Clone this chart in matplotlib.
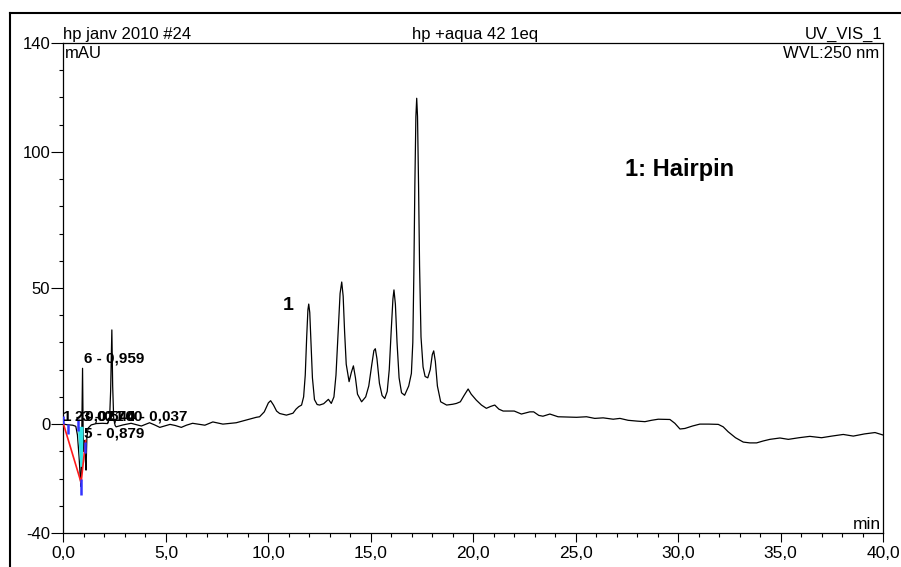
import matplotlib
matplotlib.use('Agg')
import matplotlib.pyplot as plt
from matplotlib.lines import Line2D
from matplotlib.ticker import FixedLocator, MultipleLocator

plt.rcParams['font.family'] = ['Liberation Sans', 'DejaVu Sans']

# chromatogram trace (min, mAU)
t = [0.0, 0.15, 0.3, 0.45, 0.6, 0.68, 0.76, 0.83, 0.86, 0.89, 0.93, 0.96, 0.99, 1.02, 1.06,
     1.1, 1.14, 1.2, 1.35, 1.6, 1.9, 2.15, 2.25, 2.3, 2.36, 2.4, 2.45, 2.52, 2.57, 2.9,
     3.3, 3.55, 3.8, 4.2, 4.45, 4.7, 5.2, 5.45, 5.75, 6.0, 6.3, 6.9, 7.29, 7.78, 8.43,
     8.92, 9.41, 9.57, 9.8, 10.0, 10.11, 10.25, 10.4, 10.55, 10.88, 11.2, 11.35, 11.48,
     11.62, 11.72, 11.8, 11.87, 11.93, 11.97, 12.02, 12.08, 12.15, 12.25, 12.38, 12.5,
     12.7, 12.93, 13.07, 13.2, 13.3, 13.4, 13.5, 13.58, 13.65, 13.72, 13.8, 13.94, 14.05,
     14.15, 14.25, 14.35, 14.55, 14.75, 14.9, 15.05, 15.15, 15.22, 15.3, 15.42, 15.55,
     15.68, 15.8, 15.9, 16.0, 16.08, 16.13, 16.2, 16.28, 16.38, 16.5, 16.65, 16.85, 16.98,
     17.05, 17.1, 17.15, 17.2, 17.24, 17.28, 17.33, 17.38, 17.45, 17.55, 17.65, 17.78,
     17.9, 18.0, 18.07, 18.15, 18.25, 18.41, 18.7, 19.0, 19.18, 19.37, 19.55, 19.75, 19.9,
     20.15, 20.4, 20.64, 20.85, 21.05, 21.25, 21.46, 22.0, 22.35, 22.76, 22.95, 23.2, 23.4,
     23.74, 24.14, 24.6, 25.04, 25.53, 25.93, 26.34, 26.83, 27.16, 27.56, 28.0, 28.38,
     28.7, 29.03, 29.6, 29.84, 30.09, 30.33, 30.7, 31.06, 31.5, 31.96, 32.2, 32.44, 32.8,
     33.18, 33.5, 33.83, 34.15, 34.48, 34.97, 35.38, 35.9, 36.43, 37.0, 37.5, 38.06,
     38.55, 39.1, 39.61, 40.0]
mau = [0.0, -0.2, -0.3, -0.4, -0.8, -4, -12, -21, -23, -5, 20.5, -4, -10, -6, -12,
       -16.9, -5, -1.5, -0.3, 0.2, 0.3, 0.2, 2, 12, 34.6, 14, 2, -0.5, -1.0, -0.3,
       0.3, -0.2, -0.7, 0.5, -0.3, -1.2, -0.1, -0.5, -1.2, -0.4, 0.3, -0.4, 0.8, 0.0, 0.5,
       1.5, 2.5, 2.7, 4.5, 7.8, 8.6, 7.0, 4.8, 3.9, 3.3, 4.0, 5.5, 6.4,
       7.0, 10, 18, 32, 42, 44.1, 41, 30, 17, 9, 7.2, 7.0,
       7.5, 9.1, 7.6, 10, 18, 33, 48, 52.2, 47, 34, 22, 15.6, 19,
       21.4, 17, 11, 8.2, 10, 14, 22, 27, 27.7, 24, 15, 10.5,
       9.4, 12, 20, 35, 46, 49.3, 44, 30, 17, 11.5, 10.6, 14, 18.6,
       30, 55, 88, 113, 119.7, 113, 88, 58, 32, 21, 17.5, 17.0,
       20, 25.5, 26.9, 23, 14, 8.2, 7.0, 7.3, 7.6, 8.2, 10.5, 12.9, 11,
       8.8, 7.0, 5.8, 6.5, 7.0, 5.5, 4.8, 4.8, 3.7, 4.5, 4.5, 3.2, 2.9,
       3.7, 2.7, 2.6, 2.5, 2.7, 2.1, 2.3, 1.8, 2.1, 1.4, 1.1, 0.9,
       1.4, 1.8, 1.7, 0.3, -1.8, -1.6, -0.7, 0.0, 0.0, -0.1, -1.0, -2.8, -5.0,
       -6.6, -6.9, -6.9, -6.2, -5.6, -5.1, -5.6, -5.0, -4.5, -5.0, -4.4, -3.8,
       -4.4, -3.6, -3.1, -4.0]

# integration marks at the injection peak
base_x = [0.0, 0.86, 1.08]
base_y = [0.0, -21.5, -6.0]
area_x = [0.70, 0.98, 0.94, 0.82]
area_y = [-1.0, -1.0, -15.7, -15.7]
mark_x = [0.0, 0.22, 0.70, 0.83, 1.07]
mark_lo = [0.0, -3.5, -2.5, -26.0, -10.7]
mark_hi = [3.0, 0.0, 2.0, -20.0, -6.5]

# peak labels
peak_lbl = ['1 - 0,021', '2 - 0,540', '3 - 0,700', '4 - 0,037', '6 - 0,959', '5 - 0,879']
peak_lx = [0.0, 0.54, 0.9, 3.1, 0.98, 0.98]
peak_ly = [2.9, 2.9, 2.9, 2.9, 24.1, -3.4]

xticks = [0, 5, 10, 15, 20, 25, 30, 35, 40]
xlabels = ['0,0', '5,0', '10,0', '15,0', '20,0', '25,0', '30,0', '35,0', '40,0']
yticks = [-40, 0, 50, 100, 140]
ylabels = ['-40', '0', '50', '100', '140']

fig = plt.figure(figsize=(9.01, 5.67), dpi=100)
ax = fig.add_axes([63.5 / 901, 1 - 533 / 567, 819.5 / 901, 490 / 567])

ax.plot(t, mau, color='black', lw=0.9, zorder=3)
ax.fill(area_x, area_y, color='#33e6e6', zorder=4, lw=0)
ax.plot(base_x, base_y, color='#ff1a1a', lw=1.2, zorder=5)
ax.vlines(mark_x, mark_lo, mark_hi, color='#3333ff', lw=1.8, zorder=6)

for s, x, y in zip(peak_lbl, peak_lx, peak_ly):
    ax.text(x, y, s, fontsize=11, fontweight='bold', ha='left', va='center', zorder=7)

ax.text(10.96, 43.5, '1', fontsize=14, fontweight='bold', ha='center', va='center')
ax.text(27.4, 93.4, '1: Hairpin', fontsize=17, fontweight='bold', ha='left', va='center')

ax.set_xlim(0, 40)
ax.set_ylim(-40, 140)
ax.xaxis.set_major_locator(FixedLocator(xticks))
ax.set_xticklabels(xlabels)
ax.xaxis.set_minor_locator(MultipleLocator(1))
ax.yaxis.set_major_locator(FixedLocator(yticks))
ax.set_yticklabels(ylabels)
ax.yaxis.set_minor_locator(MultipleLocator(10))
ax.tick_params(axis='x', which='major', length=6.7, width=0.8, labelsize=12.5, pad=3)
ax.tick_params(axis='y', which='major', length=8.5, width=0.8, labelsize=12, pad=1)
ax.tick_params(which='minor', length=3, width=0.8)
for sp in ax.spines.values():
    sp.set_linewidth(0.9)

ax.text(0.002, 0.994, 'mAU', transform=ax.transAxes, fontsize=12, ha='left', va='top')
ax.text(0.995, 0.994, 'WVL:250 nm', transform=ax.transAxes, fontsize=12, ha='right', va='top')
ax.text(0.998, 0.008, 'min', transform=ax.transAxes, fontsize=12.5, ha='right', va='baseline')

fig.text(63 / 901, 0.932, 'hp janv 2010 #24', fontsize=12, ha='left', va='baseline')
fig.text(475 / 901, 0.932, 'hp +aqua 42 1eq', fontsize=12, ha='center', va='baseline')
fig.text(882 / 901, 0.932, 'UV_VIS_1', fontsize=12, ha='right', va='baseline')

# outer frame (left and top edges)
fx = 9.5 / 901
fy = 1 - 13 / 567
fig.add_artist(Line2D([fx, fx], [0, fy], color='black', lw=1.5, transform=fig.transFigure))
fig.add_artist(Line2D([fx, 1], [fy, fy], color='black', lw=1.5, transform=fig.transFigure))

fig.savefig('out.png', dpi=100)
